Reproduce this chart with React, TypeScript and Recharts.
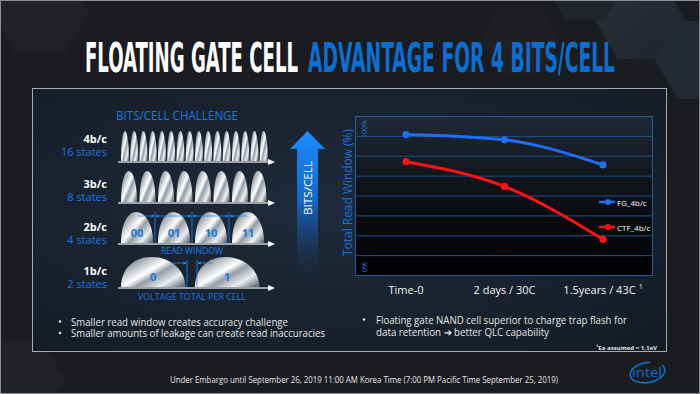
import React from 'react';
import { LineChart, Line, XAxis, YAxis, ReferenceLine, Legend } from 'recharts';

// chart data
const categories = ['Time-0', '2 days / 30C', '1.5years / 43C'];
const fgWindow = [101.3, 97.5, 79.5];
const ctfWindow = [81.8, 64, 26];
const seriesNames = ['FG_4b/c', 'CTF_4b/c'];
// the plot is split in 8 bands, 100% sits on the 7th line
const gridTicks = [1, 2, 3, 4, 5, 6, 7].map(i => (i * 100) / 7);

const data = categories.map((name, i) => ({ name, fg: fgWindow[i], ctf: ctfWindow[i] }));

const FG_BLUE = '#1f6ff5';
const CTF_RED = '#ff1212';
const INTEL_BLUE = '#0b6fd0';
const FONT = "'Open Sans', 'Noto Sans', sans-serif";
const TITLE_FONT = "'DejaVu Sans Condensed', 'Liberation Sans Narrow', sans-serif";

// left diagram rows
const rows = [
  { label: '4b/c', states: '16 states', n: 16, top: 131, base: 161, y: 139 },
  { label: '3b/c', states: '8 states', n: 8, top: 171, base: 202, y: 184 },
  { label: '2b/c', states: '4 states', n: 4, top: 212, base: 243, y: 227 },
  { label: '1b/c', states: '2 states', n: 2, top: 257, base: 287, y: 271 },
];
const rowLabels: Record<number, string[]> = { 4: ['00', '01', '10', '11'], 2: ['0', '1'] };

// rounded dome, peak a bit left of centre
const bell = (x0: number, w: number, top: number, base: number) => {
  const h = base - top;
  const x1 = x0 + w;
  const px = x0 + w * 0.47;
  return `M${x0},${base} C${x0},${base - h * 0.6} ${x0 + w * 0.2},${top} ${px},${top} C${x0 + w * 0.78},${top} ${x1},${base - h * 0.55} ${x1},${base} Z`;
};

const XTick = ({ x, y, payload, index }: any) => (
  <text x={x} y={y} dy={10} textAnchor="middle" fill="#f2f2f2" fontSize={11} fontFamily={FONT}>
    {payload.value}
    {index === 2 && <tspan dx={3} dy={-5} fontSize={7}>1</tspan>}
  </text>
);

const LegendBox = ({ payload }: any) => {
  const items = [...(payload || [])].sort((a: any, b: any) => seriesNames.indexOf(a.value) - seriesNames.indexOf(b.value));
  return (
    <div>
      {items.map((p: any, i: number) => (
        <div key={i} style={{ display: 'flex', alignItems: 'center', height: 25 }}>
          <svg width={16} height={8}>
            <line x1={0} y1={4} x2={16} y2={4} stroke={p.color} strokeWidth={2.5} />
            <circle cx={9} cy={4} r={3} fill={p.color} />
          </svg>
          <span style={{ fontSize: 8, color: '#fff', marginLeft: 2, fontFamily: FONT }}>{p.value}</span>
        </div>
      ))}
    </div>
  );
};

const Hex = ({ cx, cy, r, fill }: any) => {
  const pts = [0, 1, 2, 3, 4, 5]
    .map(k => {
      const a = (Math.PI / 3) * k;
      return `${cx + r * Math.cos(a)},${cy + r * Math.sin(a)}`;
    })
    .join(' ');
  return <polygon points={pts} fill={fill} />;
};

export default function App() {
  return (
    <div style={{ position: 'absolute', left: 0, top: 0, width: 700, height: 394, background: '#1b1c1f', overflow: 'hidden', fontFamily: FONT }}>
      <svg width={700} height={394} style={{ position: 'absolute', left: 0, top: 0 }}>
        <defs>
          <linearGradient id="metal" x1="0" y1="0.1" x2="1" y2="0.9">
            <stop offset="0" stopColor="#57616c" />
            <stop offset="0.28" stopColor="#c3c8cd" />
            <stop offset="0.45" stopColor="#ffffff" />
            <stop offset="0.58" stopColor="#949ca5" />
            <stop offset="0.8" stopColor="#eceef0" />
            <stop offset="1" stopColor="#6a737d" />
          </linearGradient>
          <linearGradient id="bigArrow" x1="0" y1="0" x2="0" y2="1">
            <stop offset="0" stopColor="#1a8cff" />
            <stop offset="0.45" stopColor="#1467c4" />
            <stop offset="1" stopColor="#1a2535" stopOpacity="0" />
          </linearGradient>
          <linearGradient id="plotBg" x1="0" y1="0" x2="0" y2="1">
            <stop offset="0" stopColor="#202935" />
            <stop offset="0.55" stopColor="#0b0e12" />
            <stop offset="1" stopColor="#020203" />
          </linearGradient>
          <radialGradient id="boxBg" cx="0.45" cy="0.45" r="0.7">
            <stop offset="0" stopColor="#1f2b3b" />
            <stop offset="1" stopColor="#151c26" />
          </radialGradient>
          <linearGradient id="hexTop" x1="0" y1="0" x2="1" y2="1">
            <stop offset="0" stopColor="#2a3039" />
            <stop offset="1" stopColor="#20252c" />
          </linearGradient>
          <marker id="arr" viewBox="0 0 6 6" refX="5" refY="3" markerWidth="4" markerHeight="4" orient="auto-start-reverse">
            <path d="M0,0 L6,3 L0,6 Z" fill="#1a8cff" />
          </marker>
        </defs>

        {/* background hexagons */}
        <Hex cx={640} cy={20} r={45} fill="url(#hexTop)" />
        <Hex cx={700} cy={60} r={45} fill="#242a32" />
        <Hex cx={585} cy={-15} r={40} fill="#222529" />
        <Hex cx={40} cy={10} r={50} fill="#1f2124" />
        <Hex cx={520} cy={40} r={40} fill="#1e2024" />
        <Hex cx={20} cy={380} r={45} fill="#202226" />
        <rect x={0.5} y={0.5} width={699} height={393} fill="none" stroke="#8a8d92" />

        {/* title */}
        <g transform="translate(85,72) scale(1,1.95)">
          <text x={0} y={0} fill="#ffffff" fontSize={21} fontWeight="bold" fontFamily={TITLE_FONT} textLength={213} lengthAdjust="spacingAndGlyphs">
            FLOATING GATE CELL
          </text>
        </g>
        <g transform="translate(308,72) scale(1,1.95)">
          <text x={0} y={0} fill="#0a6fd0" fontSize={21} fontWeight="bold" fontFamily={TITLE_FONT} textLength={307} lengthAdjust="spacingAndGlyphs">
            ADVANTAGE FOR 4 BITS/CELL
          </text>
        </g>

        {/* content box */}
        <rect x={32.5} y={88.5} width={634} height={263} fill="url(#boxBg)" stroke="#a7abb0" />

        {/* left diagram */}
        <text x={116} y={120} fill="#1a78e0" fontSize={12} fontFamily={FONT} textLength={122} lengthAdjust="spacingAndGlyphs">
          BITS/CELL CHALLENGE
        </text>
        {rows.map(r => {
          const pitch = 148 / r.n;
          const w = pitch * 0.87;
          const labels = rowLabels[r.n];
          return (
            <g key={r.label}>
              <text x={107} y={r.y + 4} textAnchor="end" fill="#ffffff" fontSize={11} fontWeight="bold" fontFamily={FONT}>{r.label}</text>
              <text x={107} y={r.y + 17} textAnchor="end" fill="#1a78e0" fontSize={11} fontFamily={FONT}>{r.states}</text>
              {Array.from({ length: r.n }).map((_, k) => (
                <path key={k} d={bell(121 + k * pitch, w, r.top, r.base)} fill="url(#metal)" />
              ))}
              {labels && labels.map((t, k) => (
                <text key={t} x={121 + k * pitch + w / 2} y={(r.top + r.base) / 2 + 9} textAnchor="middle" fill="#1a78e0" fontSize={11} fontWeight="bold" fontFamily={FONT}>{t}</text>
              ))}
              <line x1={118} y1={r.base + 1} x2={270} y2={r.base + 1} stroke="#c9cdd2" strokeWidth={1.5} />
              <path d={`M268,${r.base - 2} L275,${r.base + 1} L268,${r.base + 4} Z`} fill="#ffffff" />
            </g>
          );
        })}
        {/* read window arrows, 2b/c row */}
        {[155, 192, 229].map(x => (
          <line key={x} x1={x} y1={212} x2={x} y2={243} stroke="#1a8cff" strokeWidth={0.8} />
        ))}
        <line x1={138} y1={216} x2={154} y2={216} stroke="#1a8cff" strokeWidth={0.8} markerEnd="url(#arr)" />
        <line x1={156} y1={216} x2={191} y2={216} stroke="#1a8cff" strokeWidth={0.8} markerStart="url(#arr)" markerEnd="url(#arr)" />
        <line x1={193} y1={216} x2={228} y2={216} stroke="#1a8cff" strokeWidth={0.8} markerStart="url(#arr)" markerEnd="url(#arr)" />
        <line x1={230} y1={216} x2={247} y2={216} stroke="#1a8cff" strokeWidth={0.8} markerStart="url(#arr)" />
        {/* 1b/c row */}
        <line x1={187} y1={260} x2={187} y2={287} stroke="#1a8cff" strokeWidth={0.8} />
        <line x1={197} y1={260} x2={197} y2={287} stroke="#1a8cff" strokeWidth={0.8} />
        <line x1={171} y1={263} x2={186} y2={263} stroke="#1a8cff" strokeWidth={0.8} markerEnd="url(#arr)" />
        <line x1={198} y1={263} x2={212} y2={263} stroke="#1a8cff" strokeWidth={0.8} markerStart="url(#arr)" />
        <text x={192} y={254} textAnchor="middle" fill="#1a78e0" fontSize={8.5} fontFamily={FONT} textLength={62} lengthAdjust="spacingAndGlyphs">READ WINDOW</text>
        <text x={192} y={300} textAnchor="middle" fill="#1a78e0" fontSize={8.5} fontFamily={FONT} textLength={108} lengthAdjust="spacingAndGlyphs">VOLTAGE TOTAL PER CELL</text>

        {/* big arrow */}
        <polygon points="307.5,131 325,149 318,149 318,288 297,288 297,149 290,149" fill="url(#bigArrow)" />
        <text transform="translate(312,215) rotate(-90)" fill="#ffffff" fontSize={11} fontFamily={FONT} textLength={54} lengthAdjust="spacingAndGlyphs">BITS/CELL</text>

        {/* plot area backdrop */}
        <rect x={355.5} y={116.5} width={297} height={159} fill="url(#plotBg)" stroke="#1f5c9e" />
        <text transform="translate(352,192.5) rotate(-90)" textAnchor="middle" fill="#1a73d9" fontSize={12.5} fontFamily={FONT} textLength={127} lengthAdjust="spacingAndGlyphs">Total Read Window (%)</text>
        <text transform="translate(367,129) rotate(-90)" textAnchor="middle" fill="#1a73d9" fontSize={7} fontFamily={FONT}>100%</text>
        <text transform="translate(367,267) rotate(-90)" textAnchor="middle" fill="#1a73d9" fontSize={7} fontFamily={FONT}>0%</text>

        {/* bullets */}
        <circle cx={60} cy={321.5} r={1.3} fill="#e6e6e6" />
        <text x={71} y={325.5} fill="#e6e6e6" fontSize={10} fontFamily={FONT} textLength={217} lengthAdjust="spacingAndGlyphs">Smaller read window creates accuracy challenge</text>
        <circle cx={60} cy={333} r={1.3} fill="#e6e6e6" />
        <text x={71} y={337} fill="#e6e6e6" fontSize={10} fontFamily={FONT} textLength={254} lengthAdjust="spacingAndGlyphs">Smaller amounts of leakage can create read inaccuracies</text>
        <circle cx={364} cy={319.5} r={1.3} fill="#e6e6e6" />
        <text x={376} y={323.5} fill="#e6e6e6" fontSize={10} fontFamily={FONT} textLength={251} lengthAdjust="spacingAndGlyphs">Floating gate NAND cell superior to charge trap flash for</text>
        <text x={376} y={335.5} fill="#e6e6e6" fontSize={10} fontFamily={FONT} textLength={173} lengthAdjust="spacingAndGlyphs">data retention ➔ better QLC capability</text>
        <text x={596} y={349.5} fill="#e6e6e6" fontSize={6} fontWeight="bold" fontFamily={FONT} textLength={61} lengthAdjust="spacingAndGlyphs">¹Ea assumed = 1.1eV</text>

        {/* footer */}
        <text x={170} y={383} fill="#e6e6e6" fontSize={8.5} fontFamily={FONT} textLength={388} lengthAdjust="spacingAndGlyphs">
          Under Embargo until September 26, 2019 11:00 AM Korea Time (7:00 PM Pacific Time September 25, 2019)
        </text>
        <ellipse cx={647.5} cy={372.5} rx={17.5} ry={10} fill="none" stroke={INTEL_BLUE} strokeWidth={1.6} strokeDasharray="70 12" transform="rotate(-10 647.5 372.5)" />
        <text x={632} y={377} fill={INTEL_BLUE} fontSize={13} fontFamily={FONT} textLength={30} lengthAdjust="spacingAndGlyphs">intel</text>
      </svg>

      <div style={{ position: 'absolute', left: 330, top: 100 }}>
        <LineChart width={340} height={210} data={data} margin={{ top: 16.5, right: 17, left: 25, bottom: 10.5 }}>
          <XAxis dataKey="name" height={24} axisLine={false} tickLine={false} padding={{ left: 51, right: 50 }} tick={<XTick />} interval={0} />
          <YAxis hide domain={[0, 800 / 7]} ticks={gridTicks} interval={0} />
          {gridTicks.map(v => (
            <ReferenceLine key={v} y={v} stroke="#1f5089" strokeWidth={1} />
          ))}
          <Legend
            layout="horizontal"
            verticalAlign="middle"
            align="center"
            content={<LegendBox />}
            wrapperStyle={{ left: 269, top: 89.5, width: 70 }}
          />
          <Line type="monotone" dataKey="fg" name={seriesNames[0]} stroke={FG_BLUE} strokeWidth={3} dot={{ r: 3.6, fill: FG_BLUE, stroke: FG_BLUE, strokeWidth: 0 }} isAnimationActive={false} />
          <Line type="monotone" dataKey="ctf" name={seriesNames[1]} stroke={CTF_RED} strokeWidth={3} dot={{ r: 3.6, fill: CTF_RED, stroke: CTF_RED, strokeWidth: 0 }} isAnimationActive={false} />
        </LineChart>
      </div>
    </div>
  );
}
